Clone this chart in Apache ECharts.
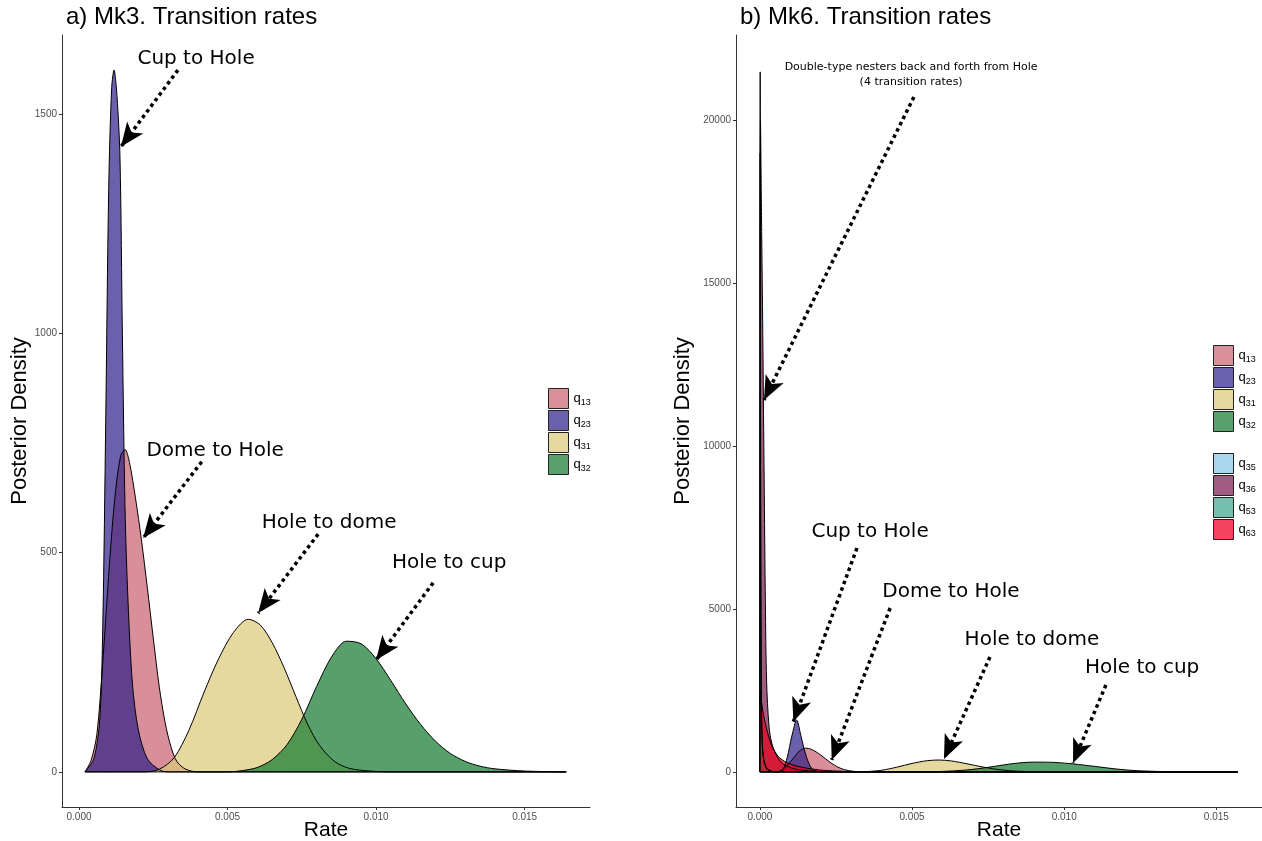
<!DOCTYPE html>
<html>
<head>
<meta charset="utf-8">
<script src="https://cdn.jsdelivr.net/npm/echarts@6/dist/echarts.min.js"></script>
<style>
  html, body { margin: 0; padding: 0; background: #fff; }
  #chart { width: 1262px; height: 841px; }
</style>
</head>
<body>
<div id="chart"></div>
<script>
// posterior densities, [rate, density]
// a) Mk3
const mk3_q13 = [[0.0002,0],[0.0004,25],[0.0006,85],[0.0008,250],[0.001,450],[0.0012,620],[0.0014,720],[0.00155,735],[0.0017,705],[0.0019,625],[0.0021,530],[0.0023,420],[0.0025,305],[0.0027,195],[0.0029,112],[0.0031,56],[0.0033,23],[0.0036,6],[0.004,0],[0.0164,0]];
const mk3_q23 = [[0.0002,0],[0.0005,30],[0.0007,120],[0.0008,330],[0.0009,800],[0.001,1330],[0.0011,1560],[0.00118,1600],[0.00128,1540],[0.00138,1400],[0.00146,1000],[0.00155,600],[0.00165,390],[0.0018,200],[0.002,95],[0.0023,30],[0.0027,5],[0.003,0],[0.0164,0]];
const mk3_q31 = [[0.0002,0],[0.0022,0],[0.0027,6],[0.0032,32],[0.0037,95],[0.0042,180],[0.0047,258],[0.0052,318],[0.0057,348],[0.0061,335],[0.0065,295],[0.0069,238],[0.0073,172],[0.0077,108],[0.0081,60],[0.0086,24],[0.0091,8],[0.0098,2],[0.0105,0],[0.0164,0]];
const mk3_q32 = [[0.0002,0],[0.005,0],[0.0055,3],[0.006,10],[0.0065,28],[0.007,62],[0.0075,120],[0.008,195],[0.0085,262],[0.009,298],[0.0095,292],[0.01,258],[0.0105,208],[0.011,155],[0.0115,108],[0.012,70],[0.0125,42],[0.013,24],[0.0135,13],[0.014,7],[0.015,2],[0.0164,0]];

// b) Mk6
const mk6_q13 = [[0,0],[0.0005,0],[0.0007,40],[0.0009,200],[0.0011,420],[0.0013,640],[0.0015,730],[0.0017,690],[0.002,520],[0.0023,300],[0.0026,130],[0.0029,40],[0.0033,6],[0.004,0],[0.0157,0]];
const mk6_q23 = [[0,0],[0.0006,0],[0.00075,60],[0.0009,450],[0.00105,1100],[0.00121,1590],[0.00135,1100],[0.0015,550],[0.00165,180],[0.0018,40],[0.002,0],[0.0157,0]];
const mk6_q31 = [[0,0],[0.003,0],[0.0035,10],[0.004,50],[0.0045,145],[0.005,260],[0.0055,345],[0.0059,365],[0.0063,335],[0.0068,250],[0.0073,155],[0.0078,78],[0.0083,30],[0.009,8],[0.01,0],[0.0157,0]];
const mk6_q32 = [[0,0],[0.005,0],[0.006,15],[0.0068,60],[0.0075,140],[0.0082,240],[0.0088,295],[0.0092,300],[0.0097,290],[0.0103,245],[0.011,170],[0.0117,90],[0.0124,38],[0.0132,12],[0.014,3],[0.0157,0]];
const mk6_q35 = [[0,0],[0.00001,21500],[0.00002,12000],[0.00004,4000],[0.00008,900],[0.0002,150],[0.0005,0],[0.0157,0]];
const mk6_q36 = [[0,0],[0.00002,20000],[0.00006,16500],[0.0001,13000],[0.00014,9000],[0.00018,5200],[0.00022,2800],[0.0003,1400],[0.0004,850],[0.0006,420],[0.0008,220],[0.0012,80],[0.002,12],[0.003,0],[0.0157,0]];
const mk6_q53 = [[0,0],[0.00001,19000],[0.00002,10000],[0.00004,3500],[0.00008,800],[0.0002,120],[0.0005,0],[0.0157,0]];
const mk6_q63 = [[0,2100],[0.00002,2450],[0.00005,2200],[0.0001,1850],[0.0002,1400],[0.0003,1050],[0.0004,780],[0.0006,480],[0.0008,330],[0.001,240],[0.0013,160],[0.0017,90],[0.0022,40],[0.003,12],[0.004,0],[0.0157,0]];

// tick labels
const rateTicks = [0, 0.005, 0.01, 0.015];
const mk3DensityTicks = [0, 500, 1000, 1500];
const mk6DensityTicks = [0, 5000, 10000, 15000, 20000];

// annotations (rate, density)
const mk3Notes = ['Cup to Hole', 'Dome to Hole', 'Hole to dome', 'Hole to cup'];
const mk3NoteAt = [[0.00394,1625],[0.00458,732],[0.00842,567],[0.01246,476]];
const mk3ArrowFrom = [[0.00333,1600],[0.00413,707],[0.00805,542],[0.01192,431]];
const mk3ArrowTo = [[0.00141,1425],[0.00216,533],[0.00603,362],[0.0100,255]];

const mk6Notes = ['Double-type nesters back and forth from Hole\n(4 transition rates)', 'Cup to Hole', 'Dome to Hole', 'Hole to dome', 'Hole to cup'];
const mk6NoteAt = [[0.00497,21404],[0.00362,7368],[0.00628,5525],[0.00894,4051],[0.01256,3191]];
const mk6ArrowFrom = [[0.00506,20729],[0.00319,6877],[0.00428,5034],[0.00756,3529],[0.01137,2669]];
const mk6ArrowTo = [[0.000135,11422],[0.00110,1542],[0.00236,366],[0.00605,396],[0.01029,273]];

const fill = {
  q13: '#c9606f', q23: '#2c1c87', q31: '#dbc977', q32: '#10772d',
  q35: '#83c4e7', q36: '#79184b', q53: '#38a48b', q63: '#ec001a'
};
const key = {
  q13: '#d9909b', q23: '#6b60ab', q31: '#e6d9a0', q32: '#58a06c',
  q35: '#a8d7ef', q36: '#a15d81', q53: '#74bfae', q63: '#f2445f'
};

const sans = 'Liberation Sans, Arial, sans-serif';
const noteFont = 'DejaVu Sans, Verdana, sans-serif';

function density(name, data, g) {
  return {
    name: name, type: 'line', xAxisIndex: g, yAxisIndex: g, data: data,
    showSymbol: false, symbol: 'none', smooth: 0.3,
    lineStyle: { color: '#000', width: 1 },
    itemStyle: { color: fill[name] },
    areaStyle: { color: fill[name], opacity: 0.7 },
    emphasis: { disabled: true }, z: 2
  };
}

function notes(texts, at, from, to, g) {
  return {
    type: 'scatter', xAxisIndex: g, yAxisIndex: g, symbolSize: 0, z: 5, silent: true,
    itemStyle: { opacity: 1 },
    data: at.map((p, i) => {
      const item = { value: [p[0], p[1], texts[i]] };
      if (texts[i].indexOf('\n') >= 0) item.label = { fontSize: 11, lineHeight: 15 };
      return item;
    }),
    label: {
      show: true, position: 'inside', formatter: p => p.value[2],
      fontFamily: noteFont, fontSize: 20, color: '#000', opacity: 1
    },
    markLine: {
      silent: true, symbol: ['none', 'arrow'], symbolSize: [15, 24],
      label: { show: false }, emphasis: { disabled: true },
      lineStyle: { color: '#000', width: 3.5, type: 'dotted', cap: 'butt', opacity: 1 },
      data: from.map((p, i) => [{ coord: p }, { coord: to[i] }])
    }
  };
}

function legendData(names) {
  return names.map(n => ({ name: n, itemStyle: { color: key[n], borderColor: '#222', borderWidth: 1 } }));
}

function legend(names, top, left) {
  return {
    data: legendData(names), orient: 'vertical', left: left, top: top, padding: 0,
    icon: 'rect', itemWidth: 20, itemHeight: 20, itemGap: 1, selectedMode: false,
    formatter: n => 'q{s|' + n.slice(1) + '}',
    textStyle: { fontFamily: sans, fontSize: 13, color: '#000', rich: { s: { fontFamily: sans, fontSize: 9, padding: [8, 0, 0, 0] } } }
  };
}

function xAxis(g, min, max) {
  return {
    type: 'value', gridIndex: g, min: min, max: max,
    name: 'Rate', nameLocation: 'middle', nameGap: 13, nameMoveOverlap: false,
    nameTextStyle: { fontFamily: sans, fontSize: 21, color: '#000', verticalAlign: 'top' },
    axisLine: { onZero: false, lineStyle: { color: '#333', width: 1 } },
    axisTick: { length: 3, lineStyle: { color: '#333' }, customValues: rateTicks },
    axisLabel: { customValues: rateTicks, formatter: v => v.toFixed(3), fontFamily: sans, fontSize: 10, color: '#4d4d4d', margin: 5 },
    splitLine: { show: false }
  };
}

function yAxis(g, min, max, ticks, gap) {
  return {
    type: 'value', gridIndex: g, min: min, max: max,
    name: 'Posterior Density', nameLocation: 'middle', nameGap: gap, nameMoveOverlap: false,
    nameTextStyle: { fontFamily: sans, fontSize: 22, color: '#000' },
    axisLine: { show: true, onZero: false, lineStyle: { color: '#333', width: 1 } },
    axisTick: { show: true, length: 3, lineStyle: { color: '#333' }, customValues: ticks },
    axisLabel: { customValues: ticks, formatter: v => String(v), fontFamily: sans, fontSize: 10, color: '#4d4d4d', margin: 5 },
    splitLine: { show: false }
  };
}

const chart = echarts.init(document.getElementById('chart'));
chart.setOption({
  animation: false,
  backgroundColor: '#fff',
  title: [
    { text: 'a) Mk3. Transition rates', left: 66, top: 5, padding: 0, textStyle: { fontFamily: sans, fontSize: 24, fontWeight: 'normal', color: '#000' } },
    { text: 'b) Mk6. Transition rates', left: 740, top: 5, padding: 0, textStyle: { fontFamily: sans, fontSize: 24, fontWeight: 'normal', color: '#000' } }
  ],
  legend: [
    legend(['q13', 'q23', 'q31', 'q32'], 388, 548),
    legend(['q13', 'q23', 'q31', 'q32'], 345, 1213),
    legend(['q35', 'q36', 'q53', 'q63'], 453, 1213)
  ],
  grid: [
    { left: 62, right: 672, top: 35, bottom: 34, outerBoundsMode: 'none', containLabel: false },
    { left: 736, right: 0, top: 35, bottom: 34, outerBoundsMode: 'none', containLabel: false }
  ],
  xAxis: [xAxis(0, -0.000572, 0.0172), xAxis(1, -0.000785, 0.0165)],
  yAxis: [yAxis(0, -80, 1680, mk3DensityTicks, 31), yAxis(1, -1078, 22633, mk6DensityTicks, 42)],
  series: [
    density('q13', mk3_q13, 0),
    density('q23', mk3_q23, 0),
    density('q31', mk3_q31, 0),
    density('q32', mk3_q32, 0),
    density('q13', mk6_q13, 1),
    density('q23', mk6_q23, 1),
    density('q31', mk6_q31, 1),
    density('q32', mk6_q32, 1),
    density('q35', mk6_q35, 1),
    density('q36', mk6_q36, 1),
    density('q53', mk6_q53, 1),
    density('q63', mk6_q63, 1),
    notes(mk3Notes, mk3NoteAt, mk3ArrowFrom, mk3ArrowTo, 0),
    notes(mk6Notes, mk6NoteAt, mk6ArrowFrom, mk6ArrowTo, 1)
  ]
});
</script>
</body>
</html>
